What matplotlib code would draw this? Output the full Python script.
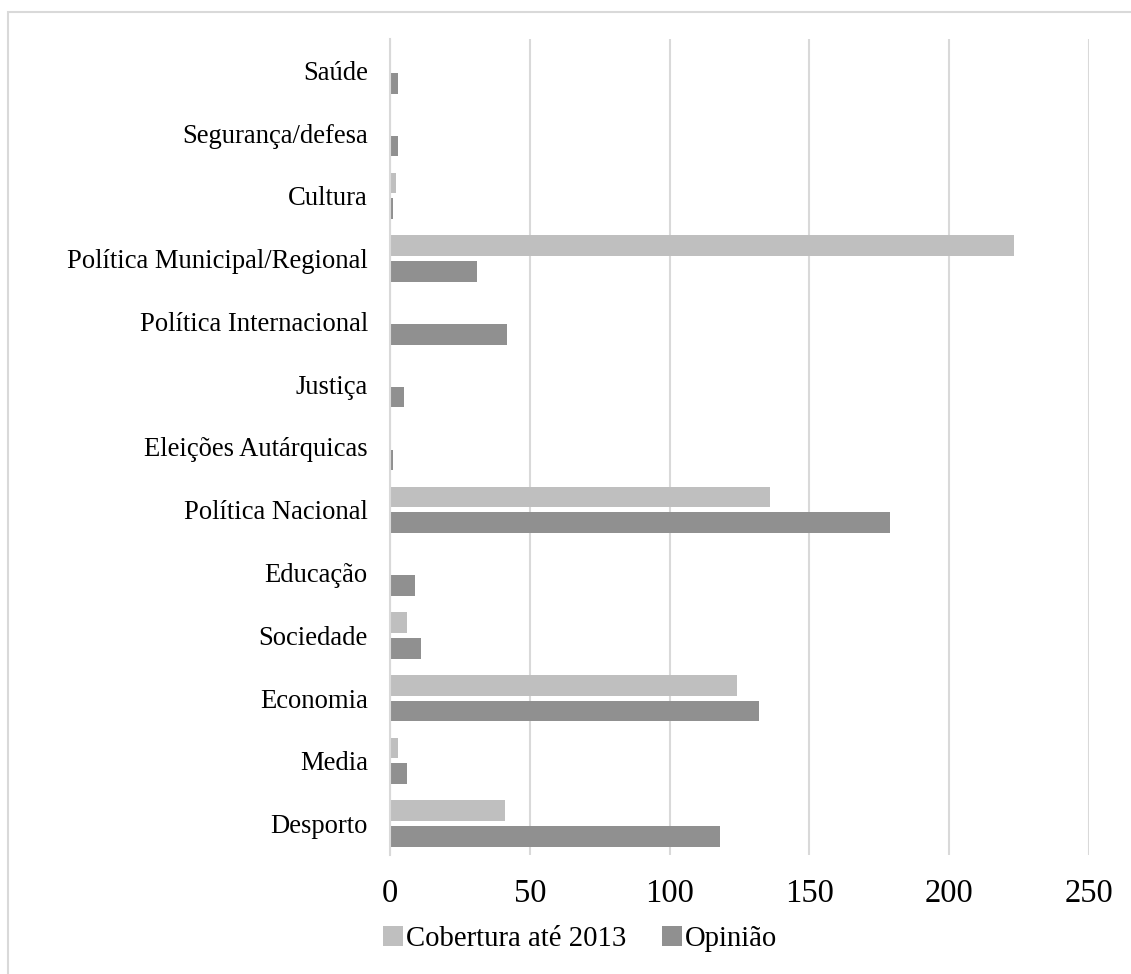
import matplotlib
matplotlib.use("Agg")
import matplotlib.pyplot as plt
from matplotlib.patches import Patch, Rectangle

# ── Dados ────────────────────────────────────────────────────────────────
categorias = ['Saúde', 'Segurança/defesa', 'Cultura', 'Política Municipal/Regional',
              'Política Internacional', 'Justiça', 'Eleições Autárquicas',
              'Política Nacional', 'Educação', 'Sociedade', 'Economia', 'Media',
              'Desporto']
cobertura = [0, 0, 2, 223, 0, 0, 0, 136, 0, 6, 124, 3, 41]
opiniao = [3, 3, 1, 31, 42, 5, 1, 179, 9, 11, 132, 6, 118]
xticks = [0, 50, 100, 150, 200, 250]
series = ['Cobertura até 2013', 'Opinião']
# ─────────────────────────────────────────────────────────────────────────

COR_COB = '#BFBFBF'
COR_OPI = '#909090'
COR_GRELHA = '#D9D9D9'

plt.rcParams['font.family'] = ['Liberation Serif', 'DejaVu Serif']

fig = plt.figure(figsize=(11.31, 9.74), dpi=100)
ax = fig.add_axes([390 / 1131, 1 - 855 / 974, (1089 - 390) / 1131, (855 - 39) / 974])

# moldura exterior (só se vêem os lados de cima e da esquerda)
fig.patches.append(Rectangle((7.5 / 1131, -0.2), 1.2, 1.2 - 12.3 / 974,
                             transform=fig.transFigure, fill=False,
                             edgecolor=COR_GRELHA, linewidth=1.5))

pos = list(range(len(categorias)))
h = 0.33
ax.barh([p - 0.205 for p in pos], cobertura, height=h, color=COR_COB, zorder=3)
ax.barh([p + 0.205 for p in pos], opiniao, height=h, color=COR_OPI, zorder=3)

ax.set_ylim(len(categorias) - 0.5, -0.5)
ax.set_xlim(0, 250)
ax.set_yticks(pos)
ax.set_yticklabels(categorias, fontsize=19.2)
ax.set_xticks(xticks)
ax.set_xticklabels([str(t) for t in xticks], fontsize=23.5)
ax.tick_params(axis='y', length=0, pad=16)
ax.tick_params(axis='x', length=0, pad=17)

ax.grid(axis='x', color=COR_GRELHA, linewidth=1.5, zorder=0)
for s in ['top', 'right', 'bottom']:
    ax.spines[s].set_visible(False)
ax.spines['left'].set_color(COR_GRELHA)
ax.spines['left'].set_linewidth(1.5)
ax.spines['left'].set_zorder(4)

handles = [Patch(facecolor=COR_COB), Patch(facecolor=COR_OPI)]
fig.legend(handles, series, loc='center', bbox_to_anchor=(580 / 1131, 1 - 939 / 974),
           ncol=2, frameon=False, fontsize=20.7, handlelength=0.7, handleheight=0.7,
           handletextpad=0.1, columnspacing=1.25, borderpad=0)

fig.savefig('out.png', dpi=100, facecolor='white')
